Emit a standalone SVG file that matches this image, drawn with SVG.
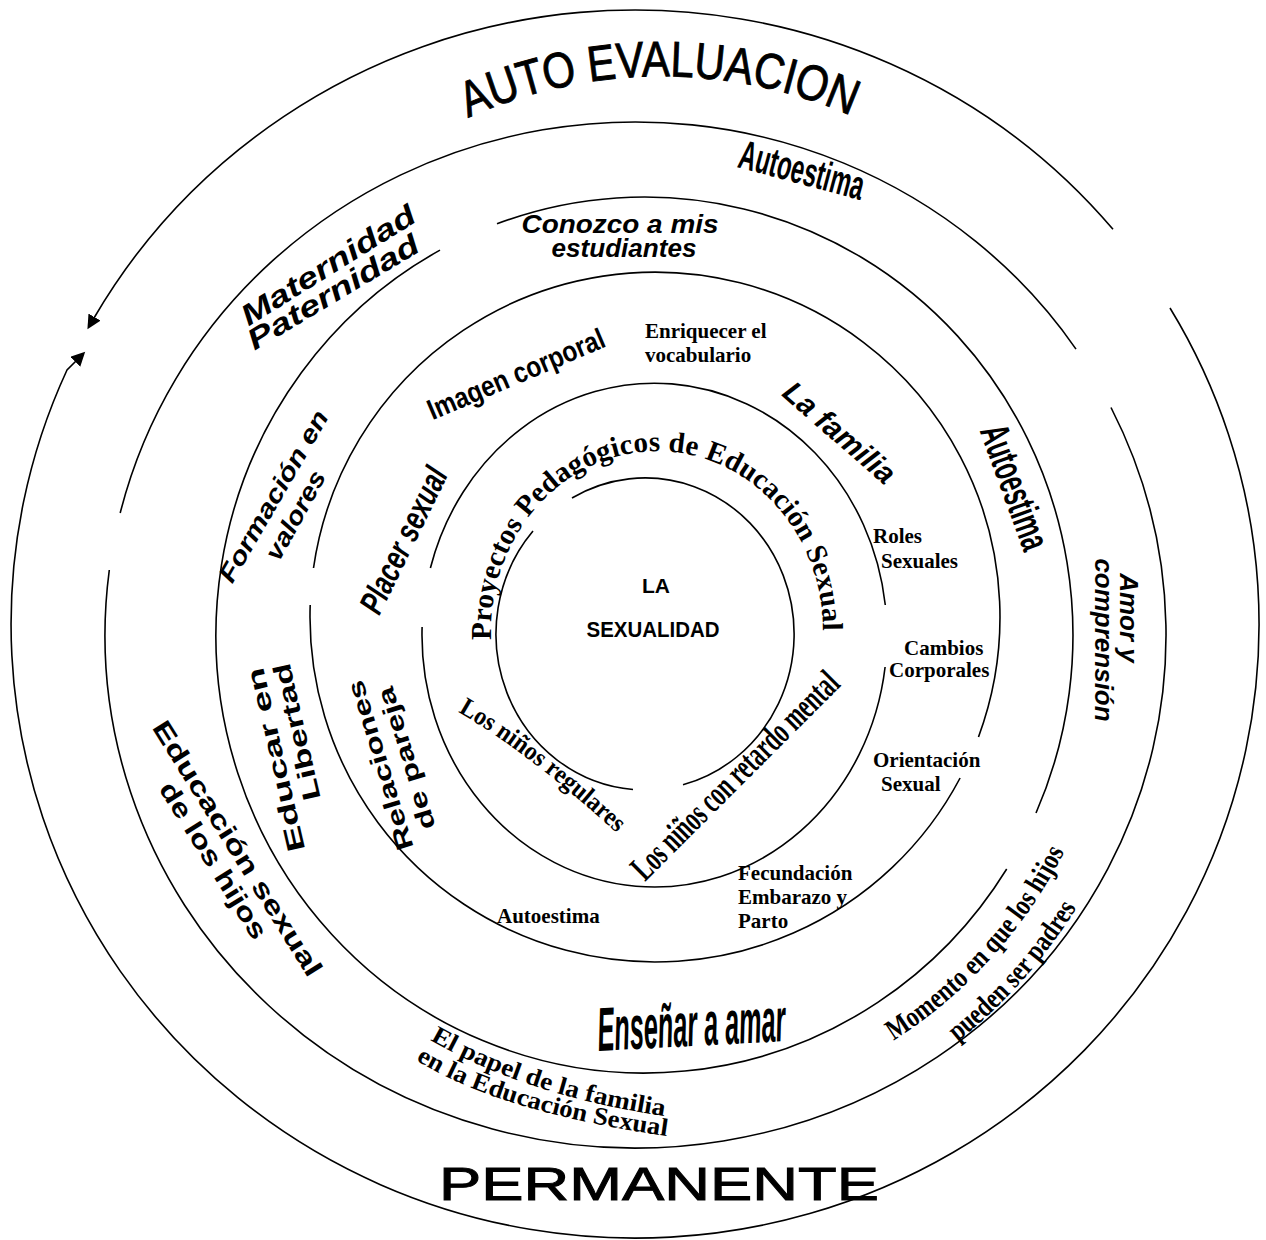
<svg xmlns="http://www.w3.org/2000/svg" width="1266" height="1240" viewBox="0 0 1266 1240">
<defs>
<style>
.ring{fill:none;stroke:#000;stroke-width:1.6}
.s{font-family:"Liberation Sans",Arial,sans-serif;fill:#000}
.t{font-family:"Liberation Serif","Times New Roman",serif;font-weight:bold;fill:#000}
.b{font-weight:bold}
.i{font-style:italic}
.m{text-anchor:middle}
.heavy{stroke:#000;stroke-width:0.9}
</style>
<marker id="arrow" markerUnits="userSpaceOnUse" markerWidth="16" markerHeight="16" refX="1" refY="7" orient="auto"><path d="M0,0 L14,7 L0,14 z" fill="#000"/></marker>
<path id="pAuto" d="M 468,118 A 472.7 472.7 0 0 1 856,118"/>
<path id="pProy" d="M 491.2,640 A 166 180 0 1 1 822.8,640"/>
<path id="pReg" d="M 458,712 Q 528,752 620,836"/>
<path id="pRet" d="M 645,882 L 850,677"/>
<path id="pMom1" d="M 893.4,1040.7 A 481 481 0 0 0 1074.4,830.6"/>
<path id="pMom2" d="M 957.4,1041.7 A 519 519 0 0 0 1088.9,886.6"/>
<path id="pPap1" d="M 430,1040 Q 528.7,1097 671,1117"/>
<path id="pPap2" d="M 416,1060 Q 500.5,1112.8 673,1137"/>
</defs>
<rect width="1266" height="1240" fill="#fff"/>
<g id="rings">
<path class="ring" d="M 572,498 A 149 156 0 1 1 683,784.8"/>
<path class="ring" d="M 633,789.5 A 149 156 0 0 1 533,531.1"/>
<path class="ring" d="M 430.4,568 A 232.5 252 0 0 1 885.3,605"/>
<path class="ring" d="M 885.1,667 A 232.5 252 0 0 1 422.1,627"/>
<path class="ring" d="M 313.5,568 A 345 345 0 1 1 978.5,737"/>
<path class="ring" d="M 960.1,778 A 345 345 0 0 1 310.2,605"/>
<path class="ring" d="M 497,223.8 A 428.5 438 0 0 1 1036,813"/>
<path class="ring" d="M 1006.7,869 A 428.5 438 0 1 1 440,250.1"/>
<path class="ring" d="M 120.2,513 A 530.5 513 0 0 1 1076,349.1"/>
<path class="ring" d="M 1111,407.5 A 530.5 513 0 1 1 109.3,570"/>
<path class="ring" d="M 1113,229.3 A 624 614 0 0 0 94,318" marker-end="url(#arrow)"/>
<path class="ring" d="M 1170,308 A 624 614 0 1 1 67,370 L 76,361" marker-end="url(#arrow)"/>
</g>
<g id="auto-evaluacion"><text class="s heavy" font-size="50" stroke-width="0.6"><textPath href="#pAuto" textLength="394" lengthAdjust="spacingAndGlyphs">AUTO EVALUACION</textPath></text></g>
<g id="permanente"><text class="s heavy" x="439" y="1200" font-size="46" textLength="440" lengthAdjust="spacingAndGlyphs">PERMANENTE</text></g>
<g id="autoestima-top"><text class="s b m" font-size="41" transform="translate(802,170) rotate(15)" y="14" textLength="128" lengthAdjust="spacingAndGlyphs">Autoestima</text></g>
<g id="conozco">
<text class="s b i m" font-size="25" x="620" y="233" textLength="197" lengthAdjust="spacingAndGlyphs">Conozco a mis</text>
<text class="s b i m" font-size="25" x="624" y="257" textLength="145" lengthAdjust="spacingAndGlyphs">estudiantes</text>
</g>
<g id="maternidad">
<text class="s b i m" font-size="29" transform="translate(328,265) rotate(-32)" y="10" textLength="200" lengthAdjust="spacingAndGlyphs">Maternidad</text>
<text class="s b i m" font-size="29" transform="translate(333,292) rotate(-31)" y="10" textLength="195" lengthAdjust="spacingAndGlyphs">Paternidad</text>
</g>
<g id="imagen"><text class="s b m" font-size="29" transform="translate(516,374) rotate(-23)" y="10" textLength="190" lengthAdjust="spacingAndGlyphs">Imagen corporal</text></g>
<g id="enriquecer">
<text class="t" font-size="21" x="645" y="338">Enriquecer el</text>
<text class="t" font-size="21" x="645" y="362">vocabulario</text>
</g>
<g id="familia"><text class="s b i m" font-size="30" transform="translate(840,432) rotate(41)" y="11" textLength="138" lengthAdjust="spacingAndGlyphs">La familia</text></g>
<g id="autoestima-right"><text class="s b m" font-size="41" transform="translate(1015,487) rotate(70)" y="14" textLength="130" lengthAdjust="spacingAndGlyphs">Autoestima</text></g>
<g id="amor">
<text class="s b i m" font-size="26" transform="translate(1120,618) rotate(90)">Amor y</text>
<text class="s b i m" font-size="26" transform="translate(1095,640) rotate(90)">comprensión</text>
</g>
<g id="formacion">
<text class="s b i m" font-size="25" transform="translate(273,496) rotate(-60)" y="9" textLength="194" lengthAdjust="spacingAndGlyphs">Formación en</text>
<text class="s b i m" font-size="25" transform="translate(295,515) rotate(-61)" y="9" textLength="98" lengthAdjust="spacingAndGlyphs">valores</text>
</g>
<g id="placer"><text class="s b i m" font-size="34" transform="translate(403,540) rotate(-64)" y="12" textLength="158" lengthAdjust="spacingAndGlyphs">Placer sexual</text></g>
<g id="proyectos"><text class="t" font-size="29"><textPath href="#pProy" textLength="552" lengthAdjust="spacing">Proyectos Pedagógicos de Educación Sexual</textPath></text></g>
<g id="sexualidad">
<text class="s b m" font-size="21" x="656" y="593">LA</text>
<text class="s b m" font-size="22" x="653" y="637" textLength="133" lengthAdjust="spacingAndGlyphs">SEXUALIDAD</text>
</g>
<g id="regulares"><text class="t" font-size="26"><textPath href="#pReg" textLength="200" lengthAdjust="spacingAndGlyphs">Los niños regulares</textPath></text></g>
<g id="retardo"><text class="t" font-size="36"><textPath href="#pRet" textLength="278" lengthAdjust="spacingAndGlyphs">Los niños con retardo mental</textPath></text></g>
<g id="roles"><text class="t" font-size="21" x="873" y="543">Roles</text><text class="t" font-size="21" x="881" y="568">Sexuales</text></g>
<g id="cambios"><text class="t" font-size="21" x="904" y="655">Cambios</text><text class="t" font-size="21" x="889" y="677">Corporales</text></g>
<g id="orientacion"><text class="t" font-size="21" x="873" y="767">Orientación</text><text class="t" font-size="21" x="881" y="791">Sexual</text></g>
<g id="fecundacion"><text class="t" font-size="21" x="738" y="880">Fecundación</text><text class="t" font-size="21" x="738" y="904">Embarazo y</text><text class="t" font-size="21" x="738" y="928">Parto</text></g>
<g id="autoestima-bottom"><text class="t" font-size="21" x="497" y="923">Autoestima</text></g>
<g id="educar">
<text class="s b m" font-size="25" transform="translate(284,758) rotate(-103)" textLength="188" lengthAdjust="spacingAndGlyphs">Educar en</text>
<text class="s b m" font-size="25" transform="translate(305,730) rotate(-103)" textLength="140" lengthAdjust="spacingAndGlyphs">Libertad</text>
</g>
<g id="relaciones">
<text class="s b m" font-size="24" transform="translate(388,763) rotate(-107)" textLength="176" lengthAdjust="spacingAndGlyphs">Relaciones</text>
<text class="s b m" font-size="24" transform="translate(414,756) rotate(-107)" textLength="148" lengthAdjust="spacingAndGlyphs">de pareja</text>
</g>
<g id="educacion-hijos">
<text class="s b m" font-size="26" transform="translate(230,853) rotate(58)" textLength="296" lengthAdjust="spacingAndGlyphs">Educación sexual</text>
<text class="s b m" font-size="26" transform="translate(206,865) rotate(58)" textLength="180" lengthAdjust="spacingAndGlyphs">de los hijos</text>
</g>
<g id="ensenar"><text class="s b i m" font-size="62" x="691" y="1046" transform="rotate(-3 691 1020)" textLength="188" lengthAdjust="spacingAndGlyphs">Enseñar a amar</text></g>
<g id="papel">
<text class="t" font-size="25"><textPath href="#pPap1" textLength="248" lengthAdjust="spacingAndGlyphs">El papel de la familia</textPath></text>
<text class="t" font-size="25"><textPath href="#pPap2" textLength="264" lengthAdjust="spacingAndGlyphs">en la Educación Sexual</textPath></text>
</g>
<g id="momento">
<text class="t" font-size="29"><textPath href="#pMom1" textLength="258" lengthAdjust="spacingAndGlyphs">Momento en que los hijos</textPath></text>
<text class="t" font-size="29"><textPath href="#pMom2" textLength="180" lengthAdjust="spacingAndGlyphs">pueden ser padres</textPath></text>
</g>
</svg>
